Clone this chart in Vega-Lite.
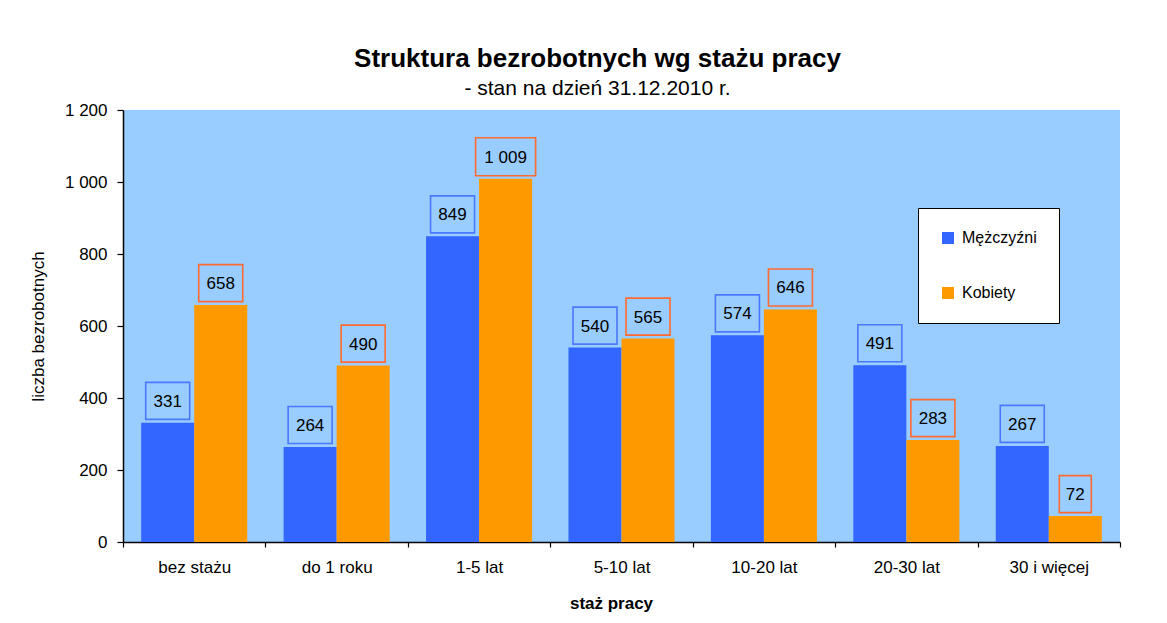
{
  "$schema": "https://vega.github.io/schema/vega-lite/v6.json",
  "width": 997,
  "height": 432,
  "autosize": {"type": "none"},
  "padding": {"left": 123, "top": 110, "right": 47, "bottom": 81},
  "background": "white",
  "title": {
    "text": "Struktura bezrobotnych wg stażu pracy",
    "subtitle": "- stan na dzień 31.12.2010 r.",
    "anchor": "middle",
    "frame": "group",
    "dx": -24,
    "offset": 2,
    "font": "Liberation Sans",
    "fontSize": 26,
    "fontWeight": "bold",
    "color": "black",
    "subtitleFont": "Liberation Sans",
    "subtitleFontSize": 21,
    "subtitleColor": "black",
    "subtitlePadding": 6
  },
  "data": {
    "values": [
      {"staz": "bez stażu", "plec": "Mężczyźni", "liczba": 331},
      {"staz": "bez stażu", "plec": "Kobiety", "liczba": 658},
      {"staz": "do 1 roku", "plec": "Mężczyźni", "liczba": 264},
      {"staz": "do 1 roku", "plec": "Kobiety", "liczba": 490},
      {"staz": "1-5 lat", "plec": "Mężczyźni", "liczba": 849},
      {"staz": "1-5 lat", "plec": "Kobiety", "liczba": 1009},
      {"staz": "5-10 lat", "plec": "Mężczyźni", "liczba": 540},
      {"staz": "5-10 lat", "plec": "Kobiety", "liczba": 565},
      {"staz": "10-20 lat", "plec": "Mężczyźni", "liczba": 574},
      {"staz": "10-20 lat", "plec": "Kobiety", "liczba": 646},
      {"staz": "20-30 lat", "plec": "Mężczyźni", "liczba": 491},
      {"staz": "20-30 lat", "plec": "Kobiety", "liczba": 283},
      {"staz": "30 i więcej", "plec": "Mężczyźni", "liczba": 267},
      {"staz": "30 i więcej", "plec": "Kobiety", "liczba": 72}
    ]
  },
  "encoding": {
    "x": {
      "field": "staz",
      "type": "nominal",
      "sort": null,
      "title": "staż pracy",
      "scale": {"paddingInner": 0, "paddingOuter": 0},
      "axis": {
        "labelAngle": 0,
        "tickBand": "extent",
        "tickSize": 5,
        "labelPadding": 12,
        "labelFontSize": 17,
        "titleFontSize": 17,
        "titleFontWeight": "bold",
        "titlePadding": 20,
        "titleX": 488
      }
    },
    "xOffset": {
      "field": "plec",
      "type": "nominal",
      "sort": ["Mężczyźni", "Kobiety"],
      "scale": {"paddingInner": 0, "paddingOuter": 0.343}
    },
    "y": {
      "field": "liczba",
      "type": "quantitative",
      "title": "liczba bezrobotnych",
      "scale": {"domain": [0, 1200], "nice": false},
      "axis": {
        "values": [0, 200, 400, 600, 800, 1000, 1200],
        "format": ",.0f",
        "tickSize": 6,
        "labelPadding": 10,
        "labelFontSize": 17,
        "titleFontSize": 17,
        "titleFontWeight": "normal",
        "titlePadding": 17
      }
    }
  },
  "layer": [
    {
      "mark": {"type": "bar", "opacity": 1},
      "encoding": {
        "color": {
          "field": "plec",
          "type": "nominal",
          "title": null,
          "scale": {"domain": ["Mężczyźni", "Kobiety"], "range": ["#3366FF", "#FF9900"]},
          "legend": {
            "orient": "none",
            "legendX": 795,
            "legendY": 98,
            "fillColor": "white",
            "strokeColor": "black",
            "padding": 22,
            "rowPadding": 39,
            "symbolType": "square",
            "symbolSize": 144,
            "symbolStrokeWidth": 0,
            "symbolOpacity": 1,
            "labelFontSize": 16,
            "labelFont": "Liberation Sans",
            "labelColor": "black",
            "labelOffset": 6
          }
        }
      }
    },
    {
      "mark": {"type": "point", "filled": false, "size": 400, "strokeWidth": 1.6, "opacity": 1},
      "encoding": {
        "stroke": {
          "field": "plec",
          "type": "nominal",
          "scale": {"domain": ["Mężczyźni", "Kobiety"], "range": ["#4A78FF", "#FF6A30"]},
          "legend": null
        },
        "shape": {
          "condition": [
            {"test": "datum.liczba >= 1000", "value": "M-3,-4.1H3V-0.3H-3Z"},
            {"test": "datum.liczba < 100", "value": "M-1.6,-4.05H1.6V-0.35H-1.6Z"}
          ],
          "value": "M-2.2,-4.05H2.2V-0.35H-2.2Z"
        }
      }
    },
    {
      "mark": {"type": "text", "dy": -21, "baseline": "middle", "align": "center", "fontSize": 17, "font": "Liberation Sans", "color": "black"},
      "encoding": {
        "text": {"field": "liczba", "type": "quantitative", "format": ","}
      }
    }
  ],
  "config": {
    "locale": {"number": {"decimal": ",", "thousands": " ", "grouping": [3], "currency": ["", " zł"]}},
    "font": "Liberation Sans",
    "view": {"fill": "#99CCFF", "stroke": null},
    "axis": {
      "grid": false,
      "domainColor": "black",
      "domainWidth": 1.5,
      "tickColor": "black",
      "tickWidth": 1.2,
      "labelColor": "black",
      "titleColor": "black",
      "labelFont": "Liberation Sans",
      "titleFont": "Liberation Sans"
    }
  }
}
